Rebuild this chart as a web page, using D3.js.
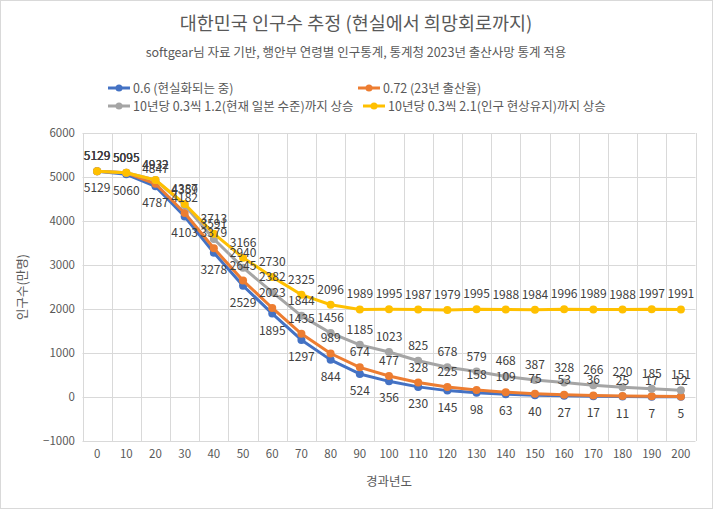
<!DOCTYPE html>
<html>
<head>
<meta charset="utf-8">
<script src="https://cdn.jsdelivr.net/npm/d3@7"></script>
<style>
  body { margin: 0; background: #fff; }
  text { font-family: "Noto Sans CJK KR", "Noto Sans", sans-serif; }
</style>
</head>
<body>
<div class="js-chart"></div>
<script>
var years = [0, 10, 20, 30, 40, 50, 60, 70, 80, 90, 100, 110, 120, 130, 140, 150, 160, 170, 180, 190, 200];
var yTicks = [-1000, 0, 1000, 2000, 3000, 4000, 5000, 6000];

var blueVals = [5129, 5060, 4787, 4103, 3278, 2529, 1895, 1297, 844, 524, 356, 230, 145, 98, 63, 40, 27, 17, 11, 7, 5];
var orangeVals = [5129, 5095, 4847, 4182, 3379, 2645, 2023, 1435, 989, 674, 477, 328, 225, 158, 109, 75, 53, 36, 25, 17, 12];
var grayVals = [5129, 5095, 4932, 4359, 3591, 2940, 2382, 1844, 1456, 1185, 1023, 825, 678, 579, 468, 387, 328, 266, 220, 185, 151];
var yellowVals = [5129, 5095, 4932, 4387, 3713, 3166, 2730, 2325, 2096, 1989, 1995, 1987, 1979, 1995, 1988, 1984, 1996, 1989, 1988, 1997, 1991];

var seriesNames = ['0.6 (현실화되는 중)', '0.72 (23년 출산율)', '10년당 0.3씩 1.2(현재 일본 수준)까지 상승', '10년당 0.3씩 2.1(인구 현상유지)까지 상승'];

var series = [
  { name: seriesNames[0], values: blueVals, color: '#4472C4', below: true },
  { name: seriesNames[1], values: orangeVals, color: '#ED7D31', below: false },
  { name: seriesNames[2], values: grayVals, color: '#A5A5A5', below: false },
  { name: seriesNames[3], values: yellowVals, color: '#FFC000', below: false }
];

var width = 713, height = 509;
var svg = d3.select('.js-chart').append('svg')
  .attr('width', width)
  .attr('height', height);

svg.append('rect')
  .attr('x', 0.5).attr('y', 0.5)
  .attr('width', width - 1).attr('height', height - 1)
  .attr('fill', '#fff').attr('stroke', '#D9D9D9');

var x = d3.scaleBand().domain(years).range([82.5, 695.5]).padding(0);
var y = d3.scaleLinear().domain([-1000, 6000]).range([441, 133]);
var cx = function(d) { return x(d) + x.bandwidth() / 2; };

// gridlines
var grid = svg.append('g');
grid.selectAll('.hgrid').data(yTicks).enter().append('line')
  .attr('x1', x.range()[0]).attr('x2', x.range()[1])
  .attr('y1', function(d) { return Math.round(y(d)) + 0.5; })
  .attr('y2', function(d) { return Math.round(y(d)) + 0.5; })
  .attr('stroke', '#D9D9D9');
grid.selectAll('.vgrid').data(years.concat(['end'])).enter().append('line')
  .attr('x1', function(d, i) { return Math.round(x.range()[0] + i * x.bandwidth()) + 0.5; })
  .attr('x2', function(d, i) { return Math.round(x.range()[0] + i * x.bandwidth()) + 0.5; })
  .attr('y1', y(6000)).attr('y2', y(-1000))
  .attr('stroke', '#D9D9D9');

// axes
var yAxis = svg.append('g')
  .attr('transform', 'translate(75,0)')
  .call(d3.axisLeft(y).tickValues(yTicks).tickFormat(d3.format('d')).tickSize(0).tickPadding(0));
yAxis.select('.domain').remove();
yAxis.selectAll('text')
  .attr('fill', '#595959')
  .style('font-size', '11.5px')
  .style('font-family', '"Noto Sans CJK KR", sans-serif');

var xAxis = svg.append('g')
  .attr('transform', 'translate(0,450)')
  .call(d3.axisBottom(x).tickSize(0).tickPadding(0));
xAxis.select('.domain').remove();
xAxis.selectAll('text')
  .attr('fill', '#595959')
  .style('font-size', '11.5px')
  .style('font-family', '"Noto Sans CJK KR", sans-serif');

// lines
var line = d3.line()
  .x(function(d, i) { return cx(years[i]); })
  .y(function(d) { return y(d); });

var groups = svg.selectAll('.series').data(series).enter().append('g');

groups.append('path')
  .attr('d', function(d) { return line(d.values); })
  .attr('fill', 'none')
  .attr('stroke', function(d) { return d.color; })
  .attr('stroke-width', 3)
  .attr('stroke-linejoin', 'round');

groups.selectAll('circle')
  .data(function(d) { return d.values.map(function(v, i) { return { v: v, i: i, color: d.color }; }); })
  .enter().append('circle')
  .attr('cx', function(d) { return cx(years[d.i]); })
  .attr('cy', function(d) { return y(d.v); })
  .attr('r', 4)
  .attr('fill', function(d) { return d.color; });

// data labels
var labels = svg.append('g');
series.forEach(function(s) {
  labels.selectAll(null)
    .data(s.values)
    .enter().append('text')
    .attr('x', function(d, i) { return cx(years[i]); })
    .attr('y', function(d) { return y(d) + (s.below ? 21 : -11); })
    .attr('text-anchor', 'middle')
    .attr('fill', '#404040')
    .style('font-size', '12px')
    .text(function(d) { return d; });
});

// titles
svg.append('text')
  .attr('x', 356).attr('y', 30)
  .attr('text-anchor', 'middle')
  .attr('fill', '#595959')
  .style('font-size', '18.5px')
  .text('대한민국 인구수 추정 (현실에서 희망회로까지)');

svg.append('text')
  .attr('x', 356).attr('y', 57)
  .attr('text-anchor', 'middle')
  .attr('fill', '#595959')
  .style('font-size', '12.5px')
  .text('softgear님 자료 기반, 행안부 연령별 인구통계, 통계청 2023년 출산사망 통계 적용');

svg.append('text')
  .attr('transform', 'translate(27,287) rotate(-90)')
  .attr('text-anchor', 'middle')
  .attr('fill', '#595959')
  .style('font-size', '12.5px')
  .text('인구수(만명)');

svg.append('text')
  .attr('x', 389).attr('y', 486)
  .attr('text-anchor', 'middle')
  .attr('fill', '#595959')
  .style('font-size', '12.5px')
  .text('경과년도');

// legend
var legendPos = [[108, 88], [358, 88], [108, 106], [363, 106]];
var legend = svg.selectAll('.legend').data(series).enter().append('g')
  .attr('transform', function(d, i) { return 'translate(' + legendPos[i][0] + ',' + legendPos[i][1] + ')'; });
legend.append('line')
  .attr('x1', 0).attr('x2', 22)
  .attr('stroke', function(d) { return d.color; })
  .attr('stroke-width', 3);
legend.append('circle')
  .attr('cx', 11).attr('r', 3.5)
  .attr('fill', function(d) { return d.color; });
legend.append('text')
  .attr('x', 25).attr('y', 4.5)
  .attr('fill', '#595959')
  .style('font-size', '12.5px')
  .text(function(d) { return d.name; });
</script>
</body>
</html>
